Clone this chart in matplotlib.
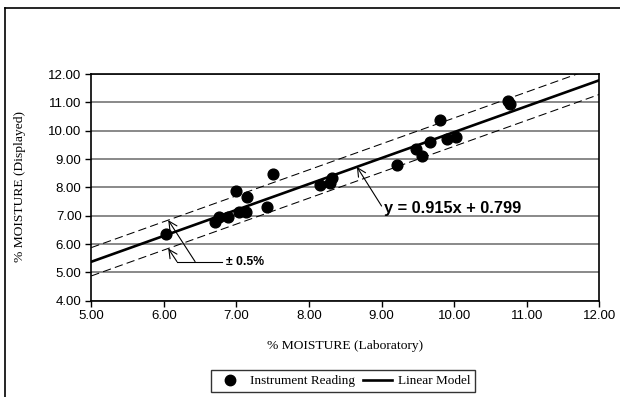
import matplotlib
matplotlib.use("Agg")
import matplotlib.pyplot as plt
import numpy as np
from matplotlib.lines import Line2D

# Data
x_lab = [6.03, 6.70, 6.76, 6.88, 6.99, 7.04, 7.13, 7.15, 7.42, 7.51, 8.15, 8.29,
         8.32, 9.21, 9.47, 9.56, 9.67, 9.81, 9.90, 10.03, 10.74, 10.77]
y_disp = [6.36, 6.77, 6.94, 6.97, 7.87, 7.14, 7.14, 7.65, 7.32, 8.46, 8.08, 8.17,
          8.32, 8.79, 9.34, 9.12, 9.61, 10.37, 9.71, 9.79, 11.05, 10.94]
slope = 0.915
intercept = 0.799
band = 0.5
x_ticks = [5, 6, 7, 8, 9, 10, 11, 12]
y_ticks = [4, 5, 6, 7, 8, 9, 10, 11, 12]

sans = ["Liberation Sans", "DejaVu Sans"]
serif = ["Liberation Serif", "DejaVu Serif"]

fig = plt.figure(figsize=(6.2, 3.97), dpi=100)
ax = fig.add_axes([91.3 / 620, 1 - 300.7 / 397, (599.3 - 91.3) / 620, (300.7 - 74) / 397])

ax.set_xlim(5, 12)
ax.set_ylim(4, 12)
ax.set_xticks(x_ticks)
ax.set_yticks(y_ticks)
ax.set_xticklabels([f"{v:.2f}" for v in x_ticks], fontfamily=sans, fontsize=9.5)
ax.set_yticklabels([f"{v:.2f}" for v in y_ticks], fontfamily=sans, fontsize=9.5)
ax.tick_params(direction="out", length=4, width=1, pad=3)
ax.grid(axis="y", color="#808080", linewidth=1.3)
ax.set_axisbelow(True)
for s in ax.spines.values():
    s.set_linewidth(1.2)
    s.set_color("black")

xx = np.array([5.0, 12.0])
yy = slope * xx + intercept
ax.plot(xx, yy, color="black", linewidth=1.9, zorder=3)
ax.plot(xx, yy + band, color="black", linewidth=0.75, linestyle=(0, (8, 4)), zorder=3)
ax.plot(xx, yy - band, color="black", linewidth=0.75, linestyle=(0, (8, 4)), zorder=3)
ax.scatter(x_lab, y_disp, s=60, color="black", zorder=4)

arrow = dict(arrowstyle="->,head_length=0.6,head_width=0.3", color="black", lw=0.8,
             shrinkA=0, shrinkB=0)
# ± 0.5% annotation
ax.annotate("", xy=(6.06, slope * 6.06 + intercept + band), xytext=(6.43, 5.38),
            arrowprops=arrow)
ax.annotate("", xy=(6.06, slope * 6.06 + intercept - band), xytext=(6.18, 5.38),
            arrowprops=arrow)
ax.plot([6.18, 6.80], [5.38, 5.38], color="black", linewidth=0.8)
ax.text(6.86, 5.36, "± 0.5%", fontfamily=sans, fontsize=8.8, fontweight="bold",
        va="center", ha="left")
# equation annotation
ax.annotate("", xy=(8.66, slope * 8.66 + intercept), xytext=(9.0, 7.34),
            arrowprops=arrow)
ax.text(9.03, 7.25, "y = 0.915x + 0.799", fontfamily=sans, fontsize=11.8,
        fontweight="bold", va="center", ha="left")

fig.text(345 / 620, 1 - 346 / 397, "% MOISTURE (Laboratory)", fontfamily=serif,
         fontsize=9.7, ha="center", va="center")
fig.text(20 / 620, 1 - 187 / 397, "% MOISTURE (Displayed)", fontfamily=serif,
         fontsize=9.7, ha="center", va="center", rotation=90)

handles = [Line2D([], [], marker="o", color="black", linestyle="none", markersize=7.5),
           Line2D([], [], color="black", linewidth=1.9)]
leg = fig.legend(handles, ["Instrument Reading", "Linear Model"], loc="center",
                 bbox_to_anchor=(343 / 620, 1 - 381 / 397), ncol=2, frameon=True,
                 prop={"family": serif, "size": 9.5}, fancybox=False,
                 handlelength=2.2, handletextpad=0.4, columnspacing=0.6,
                 borderpad=0.35, edgecolor="black")
leg.get_frame().set_linewidth(1.0)

# figure border (top and left visible)
fig.add_artist(Line2D([5 / 620, 1], [1 - 8 / 397, 1 - 8 / 397], color="black",
                      linewidth=1.2, transform=fig.transFigure))
fig.add_artist(Line2D([5 / 620, 5 / 620], [0, 1 - 8 / 397], color="black",
                      linewidth=1.2, transform=fig.transFigure))

fig.savefig("out.png", dpi=100)
